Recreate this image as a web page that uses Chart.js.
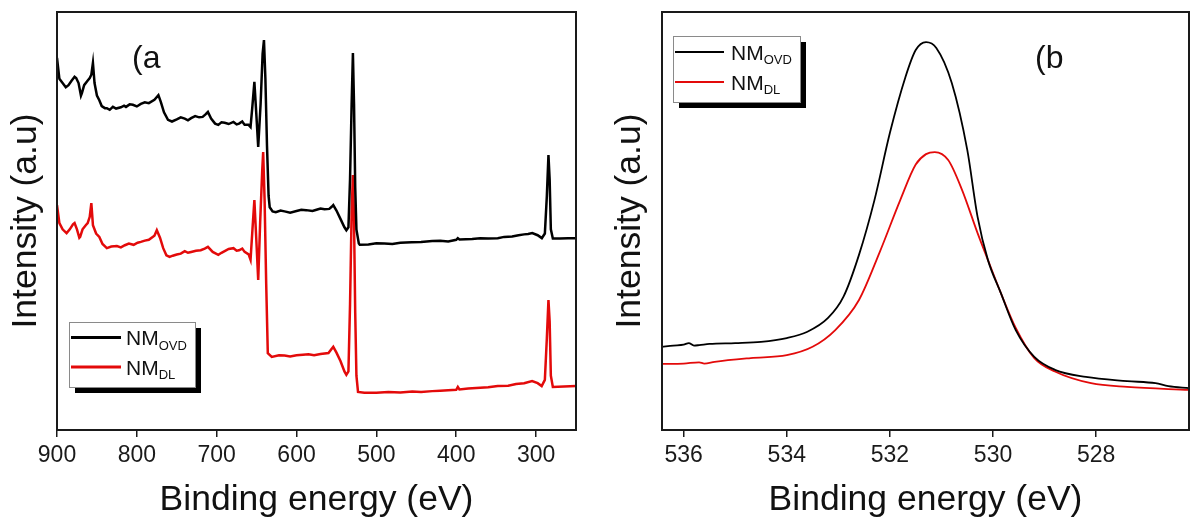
<!DOCTYPE html>
<html><head><meta charset="utf-8">
<script src="https://cdn.jsdelivr.net/npm/chart.js@4.4.1/dist/chart.umd.min.js"></script>
<style>
html,body{margin:0;padding:0;background:#fff;}
#wrap{position:relative;width:1192px;height:524px;overflow:hidden;background:#fff;}
canvas{position:absolute;top:0;}
</style></head><body>
<div id="wrap">
<canvas id="ca" width="596" height="524" style="left:0"></canvas>
<canvas id="cb" width="592" height="524" style="left:600px"></canvas>
</div>
<script>
// ---------- Data (a): XPS survey ----------
const surveyOvdE = [900,897,893,889,885.6,882,878,876,873,870,868.8,866,862,859,857,855,853,850,847,844,840,837.6,834,830,826,820,816,813.6,809,805,800,795,790,785,778,773,770,766,761,756,750,745,740,736,732,727,722,717.6,714,711,707,702,698,694,690,685,679,675,672,668,665,660,657.6,655.5,652.8,650.5,648,645,642.5,640.8,639,637,635,633.6,630,626,620,615,608,600,594,588,580,575,570,565,559,556,554,550,545,540,537.6,535,533,531,529.4,528,526.5,525,522,520.8,510,500,490,480,470,456,444,430,420,410,400,398,396,380,370,360,348,340,330,322,315,310,304.8,298,292.8,289,286.5,284.5,283,281.5,279,270,260,249.6];
const surveyOvdI = [89.0,84,83,82,82.5,83.5,84.5,84.2,83,80,80.6,82.5,83.5,84.2,85,87.8,83,80,78.9,77.5,77,77.0,76.6,77.3,76.9,77.2,77.6,77.3,77.9,77.8,77.4,78,78.4,78.2,79,80.1,78.5,76,74.2,73.8,74.3,74.8,74.5,74.1,74.6,75.1,74.8,74.9,75.5,76.1,74.5,73.3,73.0,73.6,73.5,73.2,73.7,73.1,73.3,73.8,73.0,73,72.5,77,83.3,76,67.7,78,90,93.3,84,68,56,53.3,52.3,52.1,52.5,52.3,52.0,52.4,52.7,52.6,52.4,52.7,53.0,52.8,52.9,53.4,53.8,52.5,50.5,48.5,47.8,48.5,60,78,90.2,78,58,48,44.6,44.3,44.4,44.7,44.6,44.5,44.8,44.9,45.0,45.2,45.3,45.1,45.5,45.9,45.6,45.7,45.9,45.8,45.9,46.2,46.3,46.6,46.8,46.9,47.1,46.6,45.9,47,56,65.8,60,48,45.8,45.8,45.9,45.9];
const surveyDlE = [900,897,893,888,884,880,878,875,872,871,868,864,861.6,859,857,855,851,847,843,837.6,832,825,820,815,810,804,799,795,790,785,778,775,771,767,763,759,755,750,745,740,736,732,726,720,715,711,705,698,694,690,685,679,675,672,668,665,660,657.6,655.2,652.8,650.5,648,645.5,643,641.8,640,638,636,631,622,615,608,600,592,585,578,570,560,554,550,545,540,537.6,535,533,531,529.4,528,526.5,525,523,515,500,485,470,455,444,430,420,410,400,398,396,385,370,360,348,335,325,315,305,298,293,289,286.5,284.5,283,281.5,279,265,249.6];
const surveyDlI = [53.8,49.5,48,47.1,48,49.2,49.5,48,46,46.2,48,49,49.5,51,54.3,49,47,46.2,44.5,43.5,43.9,44,43.7,44.2,44.6,44.3,44.8,45,45.3,45.5,46.5,47.8,46,43.5,41.8,41.4,41.7,42.0,42.2,42.8,42.4,42.6,42.9,43,43.4,43.8,42.6,41.9,42.4,42.8,43.3,43.5,42.9,43,43.4,42.6,42,40.7,48,55.0,46,35.9,50,62,66.5,55,35,18.4,17.5,17.9,17.8,17.6,17.9,18.0,18.1,17.9,18.2,18.4,19.9,18.5,16.5,14,13.2,14,30,52,61.0,50,28,13,9.1,8.9,8.9,9.1,9.0,9.2,9.1,9.3,9.4,9.5,9.6,10.3,9.7,9.9,10.1,10.2,10.5,10.6,11,11.2,11.7,11.2,10.5,12,22,31.1,26,13,10.3,10.4,10.5];
const surveyTicks = [900,800,700,600,500,400,300];

// ---------- Data (b): O 1s ----------
const o1sOvdE = [536.42,536.2,536.0,535.9,535.8,535.7,535.5,535.0,534.5,534.0,533.6,533.2,532.9,532.6,532.3,532.0,531.7,531.5,531.3,531.1,530.8,530.5,530.3,530.1,529.85,529.56,529.2,528.8,528.2,527.4,526.85,526.6,526.2];
const o1sOvdI = [19.9,20.2,20.4,20.8,20.2,20.3,20.6,20.8,21.1,22.0,23.5,26.8,31.9,41.9,55.0,71.1,84.4,90.9,92.8,91.4,83.0,67.0,51.0,40.7,32.8,23.9,17.5,14.4,12.7,11.7,11.2,10.5,10.0];
const o1sDlE = [536.42,536.0,535.7,535.6,535.4,534.7,534.0,533.5,533.06,532.6,532.2,531.8,531.5,531.3,531.13,530.87,530.6,530.3,530.1,529.85,529.56,529.2,528.8,528.1,527.4,526.2];
const o1sDlI = [15.8,15.9,16.2,15.9,16.3,17.2,17.9,19.9,23.9,31.1,42.5,55.0,63.5,66.0,66.5,64.6,57.4,47.1,40.7,32.8,24.4,17.2,14.0,11.2,10.3,9.6];
const o1sTicks = [536,534,532,530,528];

const seriesNames = ['NM', 'NM'];
const seriesSubs = ['OVD', 'DL'];
const BLACK = '#000000', RED = '#e30a0a';
const FONT = "'Liberation Sans', Arial, sans-serif";

function pts(xs, ys){ return xs.map((x,i)=>({x:x, y:ys[i]})); }

function framePlugin(cfg){
  return {
    id:'frame'+cfg.id,
    afterDraw(chart){
      const {ctx, chartArea:a} = chart;
      ctx.save();
      ctx.strokeStyle = '#1a1a1a'; ctx.lineWidth = 2;
      ctx.strokeRect(a.left, a.top, a.right-a.left, a.bottom-a.top);
      ctx.fillStyle = '#111';
      ctx.font = '32px ' + FONT;
      ctx.textBaseline = 'alphabetic'; ctx.textAlign = 'left';
      ctx.fillText(cfg.label, cfg.labelX, cfg.labelY);
      const L = cfg.legend;
      ctx.fillStyle = '#000';
      ctx.fillRect(L.x+6, L.y+6, L.w, L.h);
      ctx.fillStyle = '#fff';
      ctx.fillRect(L.x, L.y, L.w, L.h);
      ctx.strokeStyle = '#8a8a8a'; ctx.lineWidth = 1;
      ctx.strokeRect(L.x+0.5, L.y+0.5, L.w, L.h);
      const cols = [BLACK, RED];
      for (let i=0;i<2;i++){
        const ly = L.rows[i];
        ctx.strokeStyle = cols[i]; ctx.lineWidth = L.lw;
        ctx.beginPath(); ctx.moveTo(L.lx0, ly); ctx.lineTo(L.lx1, ly); ctx.stroke();
        ctx.fillStyle = '#111';
        ctx.font = '21px ' + FONT;
        ctx.fillText(seriesNames[i], L.tx, ly+7.5);
        const w = ctx.measureText(seriesNames[i]).width;
        ctx.font = '13px ' + FONT;
        ctx.fillText(seriesSubs[i], L.tx + w, ly+12);
      }
      ctx.restore();
    }
  };
}

function makeChart(id, cfg){
  return new Chart(document.getElementById(id), {
    type:'line',
    data:{ datasets:[
      {label:'NM OVD', data:pts(cfg.e1, cfg.i1), borderColor:BLACK, borderWidth:cfg.lw, pointRadius:0, tension:cfg.tension, cubicInterpolationMode:cfg.mono?'monotone':'default'},
      {label:'NM DL', data:pts(cfg.e2, cfg.i2), borderColor:RED, borderWidth:cfg.lw, pointRadius:0, tension:cfg.tension, cubicInterpolationMode:cfg.mono?'monotone':'default'}
    ]},
    options:{
      responsive:false, animation:false, devicePixelRatio:1,
      layout:{padding:{left:0, top:12, right:cfg.padR, bottom:0}},
      plugins:{legend:{display:false}, tooltip:{enabled:false}},
      scales:{
        x:{
          type:'linear', reverse:true, min:cfg.xmin, max:cfg.xmax,
          afterBuildTicks(s){ s.ticks = cfg.ticks.map(v=>({value:v})); },
          afterFit(s){ s.height = 94; },
          ticks:{ font:{family:FONT, size:23}, color:'#1a1a1a', padding:5, maxRotation:0, autoSkip:false },
          grid:{ display:true, drawOnChartArea:false, drawTicks:true, tickLength:7, color:'#1a1a1a', lineWidth:1.5 },
          border:{ display:false },
          title:{ display:true, text:'Binding energy (eV)', font:{family:FONT, size:35.5}, color:'#111', padding:{top:0, bottom:2} }
        },
        y:{
          type:'linear', min:0, max:100,
          afterFit(s){ s.width = cfg.yw; },
          ticks:{ display:false },
          grid:{ display:false },
          border:{ display:false },
          title:{ display:true, text:'Intensity (a.u)', font:{family:FONT, size:35.5}, color:'#111', padding:{top:cfg.ytp, bottom:0} }
        }
      }
    },
    plugins:[framePlugin(cfg)]
  });
}

makeChart('ca', {
  id:'a', e1:surveyOvdE, i1:surveyOvdI, e2:surveyDlE, i2:surveyDlI, ticks:surveyTicks,
  xmin:250, xmax:900, lw:2.5, tension:0, mono:false, padR:20, yw:57, ytp:5,
  label:'(a', labelX:132, labelY:68,
  legend:{x:69, y:322, w:126, h:65, rows:[337.5,367], lx0:71, lx1:121, tx:126, lw:3}
});
makeChart('cb', {
  id:'b', e1:o1sOvdE, i1:o1sOvdI, e2:o1sDlE, i2:o1sDlI, ticks:o1sTicks,
  xmin:526.2, xmax:536.42, lw:1.8, tension:0.4, mono:true, padR:3, yw:62, ytp:9,
  label:'(b', labelX:435, labelY:68,
  legend:{x:73, y:36, w:127, h:66, rows:[52,82], lx0:75, lx1:124, tx:131, lw:2}
});
</script>
</body></html>
